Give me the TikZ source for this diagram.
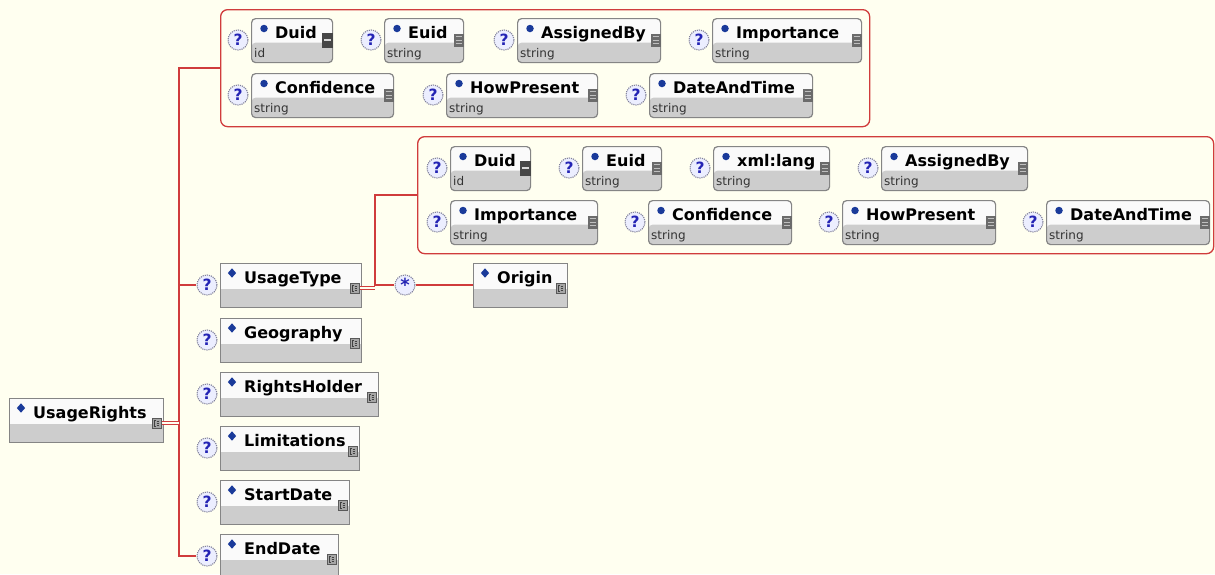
\documentclass[tikz,border=0pt]{standalone}
\usepackage{fontspec}
\setmainfont{DejaVu Sans}
\usetikzlibrary{shapes.geometric}

\definecolor{bg}{HTML}{FFFFF0}
\definecolor{wire}{HTML}{D03C3C}
\definecolor{frame}{HTML}{858585}
\definecolor{lowgray}{HTML}{CDCDCD}
\definecolor{head}{HTML}{FAFAFA}
\definecolor{navyblue}{HTML}{1A3A9A}
\definecolor{qfill}{HTML}{ECEEFF}
\definecolor{qtext}{HTML}{2424B4}
\definecolor{qring}{HTML}{80809A}

\tikzset{
  elembox/.style={draw=frame, fill=head, anchor=north west, minimum height=44pt,
    inner sep=0pt, line width=1.2pt,
    path picture={\fill[lowgray] ([yshift=-25pt]path picture bounding box.north west)
      rectangle (path picture bounding box.south east);}},
  attrbox/.style={draw=frame, fill=head, anchor=north west, minimum height=44pt,
    inner sep=0pt, line width=1.2pt, rounded corners=4pt,
    path picture={\fill[lowgray] ([yshift=-24pt]path picture bounding box.north west)
      rectangle (path picture bounding box.south east);}},
  groupbox/.style={draw=wire, line width=1.3pt, rounded corners=7pt, anchor=north west,
    inner sep=0pt},
  nametext/.style={anchor=base west, inner sep=0pt,
    font=\bfseries\fontsize{16}{18}\selectfont},
  typetext/.style={anchor=base west, inner sep=0pt, text=black!80,
    font=\fontsize{12}{14}\selectfont},
  diam/.style={diamond, fill=navyblue, minimum width=8.5pt, minimum height=9.5pt, inner sep=0pt},
  dot/.style={circle, fill=navyblue, minimum size=7.5pt, inner sep=0pt},
  cicon/.style={draw=black!65, fill=black!35, line width=.6pt, minimum width=9pt,
    minimum height=10pt, inner sep=0pt,
    path picture={
      \draw[black!75, line width=.7pt]
        ([shift={(-1pt,3pt)}]path picture bounding box.center) -- ++(-1.6pt,0)
        -- ++(0,-6pt) -- ++(1.6pt,0);
      \foreach \k in {2,0,-2}
        \draw[black!75, line width=.6pt]
          ([shift={(0pt,\k pt)}]path picture bounding box.center) -- ++(2.6pt,0);}},
  stringicon/.style={fill=black!58, minimum width=10pt, minimum height=13pt,
    inner sep=0pt,
    path picture={\foreach \k in {3.2,0,-3.2}
      \draw[black!25, line width=.9pt]
        ([shift={(-3.2pt,\k pt)}]path picture bounding box.center) -- ++(6.4pt,0);}},
  idicon/.style={fill=black!72, minimum width=11pt, minimum height=15pt,
    inner sep=0pt,
    path picture={\draw[black!15, line width=1.2pt]
        ([shift={(-3.6pt,0pt)}]path picture bounding box.center) -- ++(7.2pt,0);}},
  qmark/.style={circle, minimum size=20pt, inner sep=0pt, draw=qring, densely dotted,
    line width=1.1pt, fill=qfill, text=qtext,
    font=\bfseries\fontsize{15.5}{15.5}\selectfont},
  wireline/.style={draw=wire, line width=1.4pt},
  twinwire/.style={draw=wire, line width=1.3pt, double=bg, double distance=2pt}
}

% element box: name, x, y, width, label
\newcommand\elemnode[5]{%
  \node[elembox, minimum width=#4pt] (#1) at (#2,#3) {};
  \node[diam] (#1-d) at ([shift={(12pt,-10pt)}]#1.north west) {};
  \node[nametext] (#1-n) at ([shift={(24pt,-20.5pt)}]#1.north west) {#5};
  \node[cicon] (#1-i) at ([shift={(-7.5pt,-25pt)}]#1.north east) {};
}
% optional marker left of a box
\newcommand\optmark[1]{%
  \node[qmark] (#1-q) at ([shift={(-13pt,-22pt)}]#1.north west) {?};
}
% attribute box: name, x, y, width, label, type
\newcommand\attrnode[6]{%
  \node[attrbox, minimum width=#4pt] (#1) at (#2,#3) {};
  \node[dot] (#1-d) at ([shift={(13pt,-10.5pt)}]#1.north west) {};
  \node[nametext] (#1-n) at ([shift={(24pt,-20pt)}]#1.north west) {#5};
  \node[typetext] (#1-t) at ([shift={(3pt,-39pt)}]#1.north west) {#6};
  \node[#6icon] (#1-i) at ([shift={(-5.5pt,-22pt)}]#1.north east) {};
  \optmark{#1}
}

\begin{document}
\begin{tikzpicture}[x=1pt,y=-1pt]
  \fill[bg] (0,0) rectangle (1215,574);
  \useasboundingbox (0,0) rectangle (1215,574);
  \clip (0,0) rectangle (1215,574);

  % attribute groups
  \node[groupbox, minimum width=649pt, minimum height=117pt] (g1) at (220,9) {};
  \node[groupbox, minimum width=796pt, minimum height=117pt] (g2) at (417,136) {};

  % attributes of UsageRights
  \attrnode{a1}{251}{18}{81}{Duid}{id}
  \attrnode{a2}{384}{18}{79}{Euid}{string}
  \attrnode{a3}{517}{18}{143}{AssignedBy}{string}
  \attrnode{a4}{712}{18}{149}{Importance}{string}
  \attrnode{a5}{251}{73}{142}{Confidence}{string}
  \attrnode{a6}{446}{73}{151}{HowPresent}{string}
  \attrnode{a7}{649}{73}{163}{DateAndTime}{string}

  % attributes of UsageType
  \attrnode{b1}{450}{146}{80}{Duid}{id}
  \attrnode{b2}{582}{146}{79}{Euid}{string}
  \attrnode{b3}{713}{146}{116}{xml:lang}{string}
  \attrnode{b4}{881}{146}{146}{AssignedBy}{string}
  \attrnode{b5}{450}{200}{147}{Importance}{string}
  \attrnode{b6}{648}{200}{143}{Confidence}{string}
  \attrnode{b7}{842}{200}{153}{HowPresent}{string}
  \attrnode{b8}{1046}{200}{163}{DateAndTime}{string}

  % elements
  \elemnode{root}{9}{398}{154}{UsageRights}
  \elemnode{ut}{220}{263}{141}{UsageType}
  \elemnode{geo}{220}{318}{141}{Geography}
  \elemnode{rh}{220}{372}{158}{RightsHolder}
  \elemnode{lim}{220}{426}{139}{Limitations}
  \elemnode{sd}{220}{480}{129}{StartDate}
  \elemnode{ed}{220}{534}{118}{EndDate}
  \elemnode{org}{473}{263}{94}{Origin}
  \optmark{ut}
  \optmark{geo}
  \optmark{rh}
  \optmark{lim}
  \optmark{sd}
  \optmark{ed}
  \node[qmark, font=\bfseries\fontsize{18}{18}\selectfont] (star) at (405,285)
    {\raisebox{-.55ex}{*}};

  % connectors
  \coordinate (bus) at (179,0);
  \coordinate (bus2) at (375,0);
  \draw[wireline] (g1.west) -| (bus |- ed-q.west) -- (ed-q.west);
  \draw[wireline] (bus |- ut-q.west) -- (ut-q.west);
  \draw[twinwire] (root-i.east) -- (bus |- root-i.east);
  \draw[twinwire] (ut-i.east) -- (bus2 |- ut-i.east);
  \draw[wireline] (g2.west) -| (bus2 |- star.west) -- (star.west);
  \draw[wireline] (star.east) -- (org.west |- star.east);
\end{tikzpicture}
\end{document}
